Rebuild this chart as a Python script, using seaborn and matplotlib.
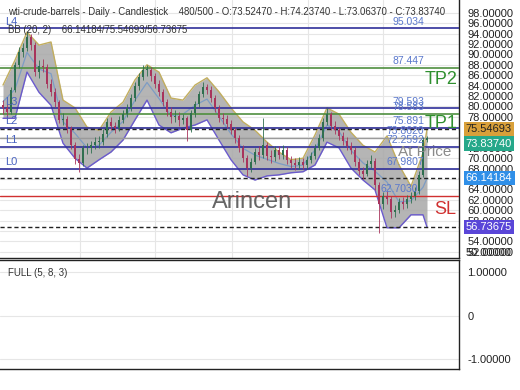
import matplotlib
matplotlib.use("Agg")
import matplotlib.pyplot as plt
import seaborn as sns
import pandas as pd
import numpy as np
from matplotlib.transforms import blended_transform_factory

# ---------------- data ----------------
opens = [80.3, 79.7, 78.9, 83.1, 88.0, 90.5, 91.2, 93.3, 91.8, 86.6,
         87.8, 87.6, 84.3, 82.8, 80.8, 77.4, 77.6, 75.8, 72.5, 69.8,
         69.0, 71.9, 71.9, 72.5, 73.1, 73.1, 74.7, 77.0, 76.2, 75.8,
         77.4, 78.5, 79.7, 81.6, 83.9, 85.7, 87.0, 87.0, 85.8, 84.3,
         82.8, 80.8, 78.9, 77.9, 78.1, 77.4, 77.7, 75.4, 78.7, 80.4,
         82.4, 83.7, 83.2, 81.6, 79.7, 77.7, 77.6, 76.6, 75.4, 73.9,
         72.0, 70.0, 68.1, 69.3, 71.2, 70.6, 72.5, 70.4, 70.2, 71.6,
         70.6, 71.6, 69.7, 69.1, 68.7, 69.3, 68.7, 69.7, 70.4, 72.0,
         73.9, 77.0, 78.5, 76.2, 75.4, 74.3, 73.3, 72.4, 71.6, 69.3,
         67.5, 67.0, 68.9, 69.5, 64.8, 61.2, 62.7, 62.1, 59.6, 60.0,
         61.6, 61.2, 62.1, 62.7, 63.7, 66.8, 73.5247]
closes = [79.7, 78.9, 83.1, 88.0, 90.5, 91.2, 93.3, 91.8, 86.6, 87.8,
          87.6, 84.3, 82.8, 80.8, 77.4, 77.6, 75.8, 72.5, 69.8, 69.0,
          71.9, 71.9, 72.5, 73.1, 73.1, 74.7, 77.0, 76.2, 75.8, 77.4,
          78.5, 79.7, 81.6, 83.9, 85.7, 87.0, 87.0, 85.8, 84.3, 82.8,
          80.8, 78.9, 77.9, 78.1, 77.4, 77.7, 75.4, 78.7, 80.4, 82.4,
          83.7, 83.2, 81.6, 79.7, 77.7, 77.6, 76.6, 75.4, 73.9, 72.0,
          70.0, 68.1, 69.3, 71.2, 70.6, 72.5, 70.4, 70.2, 71.6, 70.6,
          71.6, 69.7, 69.1, 68.7, 69.3, 68.7, 69.7, 70.4, 72.0, 73.9,
          77.0, 78.5, 76.2, 75.4, 74.3, 73.3, 72.4, 71.6, 69.3, 67.5,
          67.0, 68.9, 69.5, 64.8, 61.2, 62.7, 62.1, 59.6, 60.0, 61.6,
          61.2, 62.1, 62.7, 63.7, 66.8, 73.5247, 73.8374]
highs = [81.2, 80.4, 83.8, 88.6, 91.4, 92.3, 94.6, 94.0, 92.4, 88.9,
         89.2, 88.1, 85.2, 83.6, 81.3, 78.8, 78.2, 76.3, 73.1, 70.9,
         72.6, 73.0, 73.4, 74.0, 74.2, 75.6, 77.8, 77.9, 77.0, 78.1,
         79.3, 80.5, 82.3, 84.6, 86.4, 88.0, 87.9, 87.6, 86.5, 85.0,
         83.4, 81.5, 79.8, 79.2, 78.9, 78.6, 78.2, 79.3, 81.1, 83.0,
         84.7, 84.4, 83.9, 82.2, 80.3, 78.8, 78.4, 77.3, 76.0, 74.5,
         72.6, 70.7, 70.1, 72.0, 72.3, 77.7, 73.2, 71.5, 72.4, 72.3,
         72.5, 72.1, 70.5, 70.0, 70.2, 70.0, 70.5, 71.2, 72.7, 74.6,
         77.8, 79.6, 79.0, 77.1, 76.1, 75.0, 74.0, 73.1, 72.2, 70.0,
         68.3, 69.6, 70.6, 70.0, 65.4, 63.5, 63.6, 62.8, 61.0, 62.4,
         62.5, 63.0, 63.5, 64.5, 67.5, 74.0, 74.2374]
lows = [78.6, 77.6, 78.5, 82.7, 87.4, 89.6, 90.7, 90.9, 85.8, 85.5,
        86.7, 83.5, 81.9, 79.9, 76.8, 76.5, 74.9, 71.8, 68.9, 67.4,
        68.5, 70.8, 71.0, 71.7, 72.0, 72.6, 74.1, 75.4, 74.8, 75.2,
        76.8, 77.9, 79.1, 81.0, 83.2, 85.0, 85.9, 84.9, 83.6, 82.0,
        80.0, 78.1, 76.8, 77.0, 76.3, 76.6, 73.4, 75.0, 78.0, 79.8,
        81.8, 82.3, 80.9, 78.9, 77.0, 76.6, 75.8, 74.6, 73.0, 71.2,
        69.2, 66.5, 67.4, 68.8, 69.6, 70.0, 69.6, 69.1, 69.5, 69.8,
        69.9, 68.9, 68.2, 67.8, 67.9, 67.9, 68.0, 69.0, 69.9, 71.5,
        73.4, 76.4, 75.5, 74.6, 73.5, 72.5, 71.6, 70.8, 68.6, 66.8,
        66.0, 66.5, 68.2, 63.9, 55.6, 60.3, 61.2, 58.5, 58.6, 59.4,
        60.3, 60.5, 61.4, 62.0, 63.2, 66.4, 73.0637]

# Bollinger band values read at every 3rd candle (plus the last one)
bb_candle = list(range(0, 106, 3)) + [106]
bb_upper = [84.1, 88.9, 94.3, 91.8, 92.4, 81.2, 79.7, 76.0, 75.4, 78.9,
            80.8, 85.1, 88.0, 86.6, 81.6, 81.2, 84.1, 85.5, 82.8, 79.7,
            77.0, 75.4, 73.1, 71.2, 69.7, 70.0, 74.5, 79.7, 78.5, 75.0,
            72.5, 71.2, 74.3, 68.7, 64.6, 71.0, 75.54693]
bb_lower = [77.7, 77.7, 86.6, 82.7, 80.2, 72.9, 70.0, 68.1, 69.7, 71.2,
            73.5, 77.4, 81.2, 76.4, 74.9, 75.8, 76.4, 77.4, 73.5, 69.7,
            66.8, 65.8, 66.6, 66.8, 67.2, 67.4, 68.7, 73.1, 72.0, 68.1,
            65.8, 63.9, 56.6, 56.6, 59.1, 59.1, 56.73675]
bb_mid = [80.9, 83.3, 90.4, 87.2, 86.3, 77.0, 74.8, 72.0, 72.5, 75.0,
          77.1, 81.2, 84.6, 81.5, 78.2, 78.5, 80.2, 81.4, 78.1, 74.7,
          71.9, 70.6, 69.8, 69.0, 68.4, 68.7, 71.6, 76.4, 75.2, 71.5,
          69.1, 67.5, 65.4, 61.6, 61.8, 64.4, 66.14184]

month_breaks = [19.25, 38, 57.25, 76.25, 95]

navy_levels = [95.034, 79.593, 75.891, 72.2592, 67.9807]
green_levels = [87.447, 78.583]
sl_level = 62.703
price_line = 73.862
bb_now = [75.54693, 66.14184, 56.73675]

level_labels = ["95.034", "87.447", "79.593", "78.583", "75.891",
                "73.8620", "72.2592", "67.9807", "62.7030"]
level_label_vals = [95.034, 87.447, 79.593, 78.583, 75.891,
                    73.862, 72.2592, 67.9807, 62.703]
left_labels = ["L4", "L3", "L2", "L1", "L0"]
left_label_vals = [95.034, 79.593, 75.891, 72.2592, 67.9807]

price_ticks = list(range(52, 100, 2))
covered_ticks = [76, 74, 66, 56]   # tick labels hidden behind the value badges

# ---------------- figure ----------------
sns.set_theme(style="white")
plt.rcParams['font.family'] = ['Liberation Sans', 'DejaVu Sans']

W, H = 520, 390
fig = plt.figure(figsize=(5.2, 3.9), dpi=100)
ax = fig.add_axes([0, 1 - 258 / H, 459 / W, 258 / H])
ax2 = fig.add_axes([0, 1 - 369 / H, 459 / W, 109 / H])

df = pd.DataFrame({"o": opens, "h": highs, "l": lows, "c": closes})
df["i"] = np.arange(len(df))
bb = pd.DataFrame({"i": bb_candle, "up": bb_upper, "lo": bb_lower, "mid": bb_mid})

ax.set_xlim(-0.75, 114)
ax.set_ylim(50.78, 100.49)

# grid
for t in price_ticks:
    ax.axhline(t, color="#e6e6e6", lw=0.8, zorder=0)
for m in month_breaks:
    ax.axvline(m, color="#e6e6e6", lw=0.8, zorder=0)

# BB fill and lines
ax.fill_between(bb["i"], bb["lo"], bb["up"], color="#a8a8a8", alpha=0.85, lw=0, zorder=1)
sns.lineplot(data=bb, x="i", y="up", ax=ax, color="#c2ae5e", lw=1.0, zorder=2)
sns.lineplot(data=bb, x="i", y="lo", ax=ax, color="#6a5acd", lw=1.0, zorder=2)
sns.lineplot(data=bb, x="i", y="mid", ax=ax, color="#7d9cc4", lw=0.9, zorder=2)

# level lines
for v in navy_levels:
    ax.axhline(v, color="#2f2f9a", lw=1.2, zorder=3)
for v in green_levels:
    ax.axhline(v, color="#4f8f3f", lw=1.2, zorder=3)
ax.axhline(sl_level, color="#d03030", lw=1.0, zorder=3)
ax.axhline(price_line, color="#9a9a9a", lw=1.0, zorder=3)
for v in bb_now:
    ax.axhline(v, color="#222222", lw=1.0, ls=(0, (3, 2)), zorder=3)

# candles
up = df["c"] >= df["o"]
col = np.where(up, "#2f6f4f", "#a8345c")
ax.vlines(df["i"], df["l"], df["h"], colors=col, lw=0.6, zorder=4)
ax.bar(df["i"], (df["c"] - df["o"]).abs().clip(lower=0.15), bottom=df[["o", "c"]].min(axis=1),
       width=0.55, color=col, lw=0, zorder=5)

# axes styling
ax.yaxis.tick_right()
ax.set_yticks(price_ticks)
ax.set_yticklabels(["" if t in covered_ticks else f"{t:.5f}" for t in price_ticks],
                   fontsize=8, color="#222")
ax.tick_params(axis="y", length=0, pad=6)
ax.set_xticks([])
ax.set_xlabel("")
ax.set_ylabel("")
for s in ["left", "top"]:
    ax.spines[s].set_visible(False)
for s in ["right", "bottom"]:
    ax.spines[s].set_color("#222")
    ax.spines[s].set_linewidth(1.0)

trans = blended_transform_factory(ax.transAxes, ax.transData)
# extra clipped bottom label
ax.text(1.0148, 0.0, "50.00000", transform=ax.transAxes, fontsize=8, color="#222",
        ha="left", va="bottom", clip_on=False)

# badges on price axis
badges = [(75.54693, "#d9a03a", "#222", 0), (73.8374, "#26a88a", "white", -1.0),
          (66.14184, "#2f8fe8", "white", 0), (56.73675, "#5a46d8", "white", 0)]
for v, bg, fg, dy in badges:
    ax.text(1.0148, v + dy, f"{v:.5f}", transform=trans, fontsize=8, color=fg,
            ha="left", va="center", clip_on=False, zorder=20,
            bbox=dict(facecolor=bg, edgecolor="none", boxstyle="square,pad=0.2"))

# level labels
for lab, v in zip(level_labels, level_label_vals):
    xr = 0.91 if lab == "62.7030" else 0.924
    ax.text(xr, v + 0.35, lab, transform=trans, fontsize=7.5, color="#5a78cc",
            ha="right", va="bottom", zorder=6)
for lab, v in zip(left_labels, left_label_vals):
    ax.text(0.012, v + 0.35, lab, transform=trans, fontsize=8, color="#4a64c0",
            ha="left", va="bottom", zorder=6)

ax.text(0.926, 87.447 - 0.6, "TP2", transform=trans, fontsize=13, color="#2f8f2f",
        ha="left", va="top", zorder=6)
ax.text(0.926, 78.583 - 0.3, "TP1", transform=trans, fontsize=13, color="#2f8f2f",
        ha="left", va="top", zorder=6)
ax.text(0.945, 60.2, "SL", transform=trans, fontsize=13, color="#d03030",
        ha="left", va="center", zorder=6)
ax.text(0.868, 71.2, "At Price", transform=trans, fontsize=11, color="#8a8a8a",
        ha="left", va="center", zorder=6)
ax.text(0.462, 61.5, "Arincen", transform=trans, fontsize=17, color="#555555",
        ha="left", va="center", zorder=6, alpha=0.9)

ax.text(0.017, 0.953, "wti-crude-barrels - Daily - Candlestick    480/500 - O:73.52470 - H:74.23740 - L:73.06370 - C:73.83740",
        transform=ax.transAxes, fontsize=6.9, color="#333", ha="left", va="center", zorder=7)
ax.text(0.017, 0.884, "BB (20, 2)    66.14184/75.54693/56.73675",
        transform=ax.transAxes, fontsize=6.9, color="#333", ha="left", va="center", zorder=7)

# lower panel
osc_ticks = [1.0, 0.0, -1.0]
ax2.set_xlim(-0.75, 114)
ax2.set_ylim(-1.23, 1.28)
for t in osc_ticks:
    ax2.axhline(t, color="#e6e6e6", lw=0.8, zorder=0)
ax2.yaxis.tick_right()
ax2.set_yticks(osc_ticks)
ax2.set_yticklabels(["1.00000", "0", "-1.00000"], fontsize=8, color="#222")
ax2.tick_params(axis="y", length=0, pad=6)
ax2.set_xticks([])
ax2.spines["left"].set_visible(False)
for s in ["right", "bottom", "top"]:
    ax2.spines[s].set_color("#222")
    ax2.spines[s].set_linewidth(1.0)
ax2.text(0.017, 0.88, "FULL (5, 8, 3)", transform=ax2.transAxes, fontsize=7,
         color="#333", ha="left", va="center")

fig.patch.set_facecolor("white")
fig.savefig("out.png", dpi=100)
